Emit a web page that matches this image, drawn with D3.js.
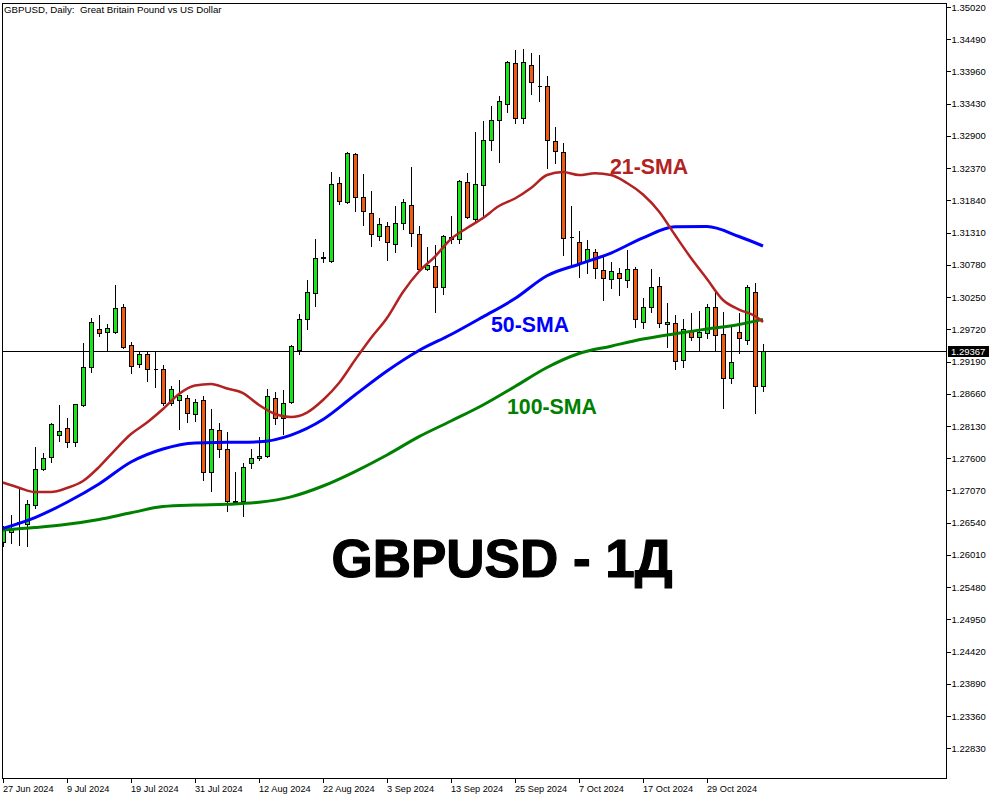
<!DOCTYPE html>
<html><head><meta charset="utf-8">
<script src="https://cdn.jsdelivr.net/npm/d3@7"></script>
<style>
html,body{margin:0;padding:0;background:#fff;}
svg{display:block;}
text{font-family:"Liberation Sans",Arial,sans-serif;}
</style></head><body>
<svg id="chart" width="1000" height="800"></svg>
<script>
const dates = ["2024-06-27","2024-06-28","2024-07-01","2024-07-02","2024-07-03","2024-07-04","2024-07-05","2024-07-08","2024-07-09","2024-07-10","2024-07-11","2024-07-12","2024-07-15","2024-07-16","2024-07-17","2024-07-18","2024-07-19","2024-07-22","2024-07-23","2024-07-24","2024-07-25","2024-07-26","2024-07-29","2024-07-30","2024-07-31","2024-08-01","2024-08-02","2024-08-05","2024-08-06","2024-08-07","2024-08-08","2024-08-09","2024-08-12","2024-08-13","2024-08-14","2024-08-15","2024-08-16","2024-08-19","2024-08-20","2024-08-21","2024-08-22","2024-08-23","2024-08-26","2024-08-27","2024-08-28","2024-08-29","2024-08-30","2024-09-02","2024-09-03","2024-09-04","2024-09-05","2024-09-06","2024-09-09","2024-09-10","2024-09-11","2024-09-12","2024-09-13","2024-09-16","2024-09-17","2024-09-18","2024-09-19","2024-09-20","2024-09-23","2024-09-24","2024-09-25","2024-09-26","2024-09-27","2024-09-30","2024-10-01","2024-10-02","2024-10-03","2024-10-04","2024-10-07","2024-10-08","2024-10-09","2024-10-10","2024-10-11","2024-10-14","2024-10-15","2024-10-16","2024-10-17","2024-10-18","2024-10-21","2024-10-22","2024-10-23","2024-10-24","2024-10-25","2024-10-28","2024-10-29","2024-10-30","2024-10-31","2024-11-01","2024-11-04","2024-11-05","2024-11-06","2024-11-07"];

const open  = [1.26217,1.26387,1.26540,1.26513,1.26831,1.27418,1.27615,1.27976,1.28091,1.27873,1.28470,1.29094,1.29720,1.29671,1.29681,1.30082,1.29456,1.29144,1.29308,1.29070,1.29061,1.28513,1.28557,1.28585,1.28322,1.28552,1.27374,1.28063,1.27747,1.26895,1.26897,1.27521,1.27598,1.27637,1.28585,1.28256,1.28529,1.29379,1.29884,1.30322,1.30900,1.30840,1.32121,1.31818,1.32597,1.31900,1.31627,1.31254,1.31424,1.31122,1.31463,1.31764,1.31282,1.30707,1.30761,1.30420,1.31200,1.31200,1.32137,1.31529,1.32093,1.32833,1.33162,1.33425,1.34104,1.33190,1.34066,1.33725,1.33721,1.32816,1.32630,1.31238,1.31151,1.30847,1.30985,1.30695,1.30542,1.30640,1.30531,1.30707,1.29844,1.30082,1.30437,1.29803,1.29819,1.29220,1.29697,1.29588,1.29652,1.30082,1.29636,1.28912,1.29671,1.29543,1.30329,1.28792];
const high  = [1.26485,1.26666,1.27110,1.26913,1.27789,1.27691,1.28174,1.28475,1.28261,1.28495,1.29499,1.29900,1.29955,1.29807,1.30449,1.30136,1.29510,1.29351,1.29351,1.29367,1.29132,1.28788,1.28886,1.28639,1.28569,1.28623,1.28409,1.28174,1.28030,1.27373,1.27526,1.27747,1.27949,1.28738,1.28694,1.28721,1.29460,1.29971,1.30531,1.31205,1.30996,1.32301,1.32219,1.32640,1.32614,1.32273,1.32001,1.31545,1.31480,1.31747,1.31862,1.32394,1.31424,1.31078,1.31106,1.31270,1.31583,1.32175,1.32295,1.32969,1.33145,1.33397,1.33561,1.34137,1.34313,1.34324,1.34258,1.34230,1.33885,1.33042,1.32778,1.31747,1.31341,1.31189,1.31035,1.30913,1.30832,1.30733,1.31024,1.30749,1.30240,1.30711,1.30575,1.30158,1.29954,1.29889,1.29982,1.30021,1.30136,1.30353,1.29999,1.29762,1.29982,1.30449,1.30486,1.29478];
const low   = [1.26156,1.26200,1.26172,1.26156,1.26776,1.27407,1.27543,1.27887,1.27779,1.27804,1.28465,1.29012,1.29614,1.29379,1.29655,1.29407,1.29005,1.29094,1.28874,1.28770,1.28475,1.28475,1.28080,1.28200,1.28212,1.27250,1.27066,1.27625,1.26727,1.26859,1.26650,1.27439,1.27571,1.27620,1.28162,1.27992,1.28503,1.29308,1.29721,1.30108,1.30832,1.30825,1.31780,1.31791,1.31665,1.31435,1.31094,1.31189,1.30859,1.30996,1.31369,1.31089,1.30695,1.30690,1.30009,1.30300,1.31145,1.31145,1.31545,1.31506,1.31571,1.32668,1.32476,1.33298,1.33117,1.33117,1.33584,1.33479,1.32367,1.32449,1.30942,1.30749,1.30585,1.30641,1.30558,1.30202,1.30394,1.30284,1.30420,1.29762,1.29736,1.30009,1.29762,1.29434,1.29066,1.29094,1.29543,1.29379,1.29570,1.29379,1.28430,1.28841,1.29334,1.29478,1.28348,1.28710];
const close = [1.26420,1.26436,1.26552,1.26842,1.27418,1.27598,1.28157,1.28052,1.27861,1.28486,1.29104,1.29835,1.29664,1.29737,1.30065,1.29423,1.29110,1.29308,1.29061,1.29062,1.28503,1.28738,1.28634,1.28348,1.28519,1.27368,1.28080,1.27747,1.26892,1.26888,1.27460,1.27598,1.27637,1.28628,1.28256,1.28513,1.29444,1.29884,1.30329,1.30888,1.30910,1.32104,1.31834,1.32614,1.31900,1.31670,1.31282,1.31447,1.31151,1.31463,1.31808,1.31299,1.30707,1.30778,1.30420,1.31254,1.31233,1.32158,1.31566,1.32109,1.32833,1.33162,1.33474,1.34120,1.33190,1.34110,1.33781,1.33717,1.32833,1.32657,1.31216,1.31246,1.30805,1.31035,1.30722,1.30568,1.30679,1.30568,1.30707,1.29884,1.30091,1.30420,1.29819,1.29836,1.29204,1.29720,1.29598,1.29680,1.30082,1.29619,1.28923,1.29187,1.29572,1.30410,1.28792,1.29367];

const sma21 = [["2024-06-27",1.27200],["2024-07-01",1.27115],["2024-07-03",1.27044],["2024-07-05",1.27044],["2024-07-09",1.27110],["2024-07-11",1.27225],["2024-07-15",1.27455],["2024-07-17",1.27735],["2024-07-19",1.27998],["2024-07-23",1.28187],["2024-07-25",1.28409],["2024-07-29",1.28656],["2024-07-31",1.28795],["2024-08-02",1.28820],["2024-08-06",1.28746],["2024-08-08",1.28672],["2024-08-12",1.28475],["2024-08-14",1.28327],["2024-08-16",1.28277],["2024-08-20",1.28351],["2024-08-22",1.28557],["2024-08-26",1.28837],["2024-08-28",1.29215],["2024-08-30",1.29577],["2024-09-03",1.29906],["2024-09-05",1.30333],["2024-09-09",1.30670],["2024-09-11",1.30917],["2024-09-13",1.31205],["2024-09-17",1.31386],["2024-09-19",1.31550],["2024-09-23",1.31747],["2024-09-25",1.31871],["2024-09-27",1.32043],["2024-10-01",1.32257],["2024-10-03",1.32307],["2024-10-07",1.32257],["2024-10-09",1.32285],["2024-10-11",1.32257],["2024-10-15",1.32126],["2024-10-17",1.31936],["2024-10-21",1.31657],["2024-10-23",1.31270],["2024-10-25",1.30892],["2024-10-29",1.30547],["2024-10-31",1.30202],["2024-11-04",1.30045],["2024-11-06",1.29938],["2024-11-07",1.29840]];
const sma50 = [["2024-06-27",1.26447],["2024-07-03",1.26625],["2024-07-09",1.26876],["2024-07-15",1.27176],["2024-07-19",1.27537],["2024-07-25",1.27751],["2024-07-31",1.27850],["2024-08-06",1.27861],["2024-08-12",1.27870],["2024-08-16",1.27981],["2024-08-22",1.28236],["2024-08-28",1.28639],["2024-09-03",1.29034],["2024-09-09",1.29371],["2024-09-13",1.29634],["2024-09-19",1.29925],["2024-09-25",1.30226],["2024-10-01",1.30601],["2024-10-07",1.30790],["2024-10-11",1.30974],["2024-10-17",1.31224],["2024-10-23",1.31405],["2024-10-29",1.31410],["2024-11-04",1.31246],["2024-11-07",1.31090]];
const sma100 = [["2024-06-27",1.26419],["2024-07-03",1.26460],["2024-07-09",1.26513],["2024-07-15",1.26592],["2024-07-19",1.26702],["2024-07-25",1.26806],["2024-07-31",1.26830],["2024-08-06",1.26842],["2024-08-12",1.26876],["2024-08-16",1.26965],["2024-08-22",1.27143],["2024-08-28",1.27381],["2024-09-03",1.27653],["2024-09-09",1.27955],["2024-09-13",1.28212],["2024-09-19",1.28475],["2024-09-25",1.28779],["2024-10-01",1.29092],["2024-10-07",1.29322],["2024-10-11",1.29442],["2024-10-17",1.29560],["2024-10-23",1.29647],["2024-10-29",1.29725],["2024-11-04",1.29800],["2024-11-07",1.29884]];

const priceTicks = [1.35020,1.34490,1.33960,1.33430,1.32900,1.32370,1.31840,1.31310,1.30780,1.30250,1.29720,1.29190,1.28660,1.28130,1.27600,1.27070,1.26540,1.26010,1.25480,1.24950,1.24420,1.23890,1.23360,1.22830];
const tickDates = ["2024-06-27","2024-07-09","2024-07-19","2024-07-31","2024-08-12","2024-08-22","2024-09-03","2024-09-13","2024-09-25","2024-10-07","2024-10-17","2024-10-29"];
const tickLabels = ["27 Jun 2024","9 Jul 2024","19 Jul 2024","31 Jul 2024","12 Aug 2024","22 Aug 2024","3 Sep 2024","13 Sep 2024","25 Sep 2024","7 Oct 2024","17 Oct 2024","29 Oct 2024"];
const currentPrice = 1.29367;
const headerText = "GBPUSD, Daily:  Great Britain Pound vs US Dollar";
const titleText = "GBPUSD - 1Д";

const svg = d3.select("#chart");
const L = 2, T = 3, R = 946, B = 778;
const x = d3.scalePoint().domain(dates).range([3, 763]);
const y = d3.scaleLinear().domain([1.22830, 1.35020]).range([748.3, 7]);

const BULL = "#19e619", BEAR = "#f25a10";

svg.append("rect").attr("width",1000).attr("height",800).attr("fill","#fff");
svg.append("defs").append("clipPath").attr("id","clip")
  .append("rect").attr("x",L).attr("y",T).attr("width",R-L).attr("height",B-T);

const plot = svg.append("g").attr("clip-path","url(#clip)");

// current price line
plot.append("line").attr("x1",L).attr("x2",R)
  .attr("y1",Math.round(y(currentPrice))+0.5).attr("y2",Math.round(y(currentPrice))+0.5)
  .attr("stroke","#000").attr("stroke-width",1);

const candles = dates.map((d,i)=>({d,o:open[i],h:high[i],l:low[i],c:close[i]}));
const cg = plot.append("g").attr("shape-rendering","crispEdges");
cg.selectAll("line.wick").data(candles).join("line").attr("class","wick")
  .attr("x1",d=>Math.round(x(d.d))+0.5).attr("x2",d=>Math.round(x(d.d))+0.5)
  .attr("y1",d=>Math.round(y(d.h))).attr("y2",d=>Math.round(y(d.l))+1)
  .attr("stroke","#000").attr("stroke-width",1);
cg.selectAll("path.body").data(candles).join("path").attr("class","body")
  .attr("d",d=>{
    const cx = Math.round(x(d.d));
    const t = Math.round(y(Math.max(d.o,d.c)))+0.5;
    const b = Math.round(y(Math.min(d.o,d.c)))+0.5;
    return `M${cx-1.5},${t}H${cx+2.5}V${b}H${cx-1.5}Z`;
  })
  .attr("fill",d=>d.c>=d.o?BULL:BEAR)
  .attr("stroke","#000").attr("stroke-width",1);

// moving averages
const line = d3.line().x(d=>x(d[0])).y(d=>y(d[1])).curve(d3.curveMonotoneX);
plot.append("path").datum(sma100).attr("d",line).attr("fill","none").attr("stroke","#008000").attr("stroke-width",3);
plot.append("path").datum(sma50).attr("d",line).attr("fill","none").attr("stroke","#0000ff").attr("stroke-width",3);
plot.append("path").datum(sma21).attr("d",line).attr("fill","none").attr("stroke","#b22222").attr("stroke-width",2.5);

// labels
svg.append("text").attr("x",610).attr("y",173.5).attr("font-size",21.3).attr("font-weight","bold").attr("fill","#b22222").text("21-SMA");
svg.append("text").attr("x",491).attr("y",331.5).attr("font-size",21.3).attr("font-weight","bold").attr("fill","#0000ff").text("50-SMA");
svg.append("text").attr("x",507).attr("y",413.5).attr("font-size",21.3).attr("font-weight","bold").attr("fill","#008000").text("100-SMA");
svg.append("text").attr("x",502).attr("y",577).attr("text-anchor","middle").attr("font-size",53).attr("font-weight","bold")
  .attr("fill","#000").attr("stroke","#000").attr("stroke-width",1.2).attr("stroke-linejoin","round").text(titleText);

svg.append("text").attr("x",4).attr("y",13).attr("font-size",9.7).attr("fill","#000")
  .style("white-space","pre").attr("xml:space","preserve").text(headerText);

// frame
svg.append("rect").attr("x",L+0.5).attr("y",T+0.5).attr("width",R-L).attr("height",B-T)
  .attr("fill","none").attr("stroke","#000").attr("stroke-width",1).attr("shape-rendering","crispEdges");

// y axis
const yAxis = d3.axisRight(y).tickValues(priceTicks).tickSize(4).tickPadding(1).tickFormat(d3.format(".5f"));
const ya = svg.append("g").attr("transform",`translate(${R+0.5},0)`).call(yAxis);
ya.select(".domain").remove();
ya.selectAll("text").attr("font-size",9.5).attr("font-family","'Liberation Sans',Arial,sans-serif").attr("fill","#000");
ya.selectAll("line").attr("stroke","#000").attr("shape-rendering","crispEdges");

// current price tag
const cp = Math.round(y(currentPrice));
svg.append("rect").attr("x",948).attr("y",cp-5).attr("width",41).attr("height",11).attr("fill","#000");
svg.append("text").attr("x",951).attr("y",cp+0.5).attr("dy","0.35em").attr("font-size",9.5).attr("fill","#fff").text(d3.format(".5f")(currentPrice));

// x axis
const xAxis = d3.axisBottom(x).tickValues(tickDates).tickSize(4).tickPadding(3)
  .tickFormat((d)=>tickLabels[tickDates.indexOf(d)]);
const xa = svg.append("g").attr("transform",`translate(-0.5,${B+0.5})`).call(xAxis);
xa.select(".domain").remove();
xa.selectAll("text").attr("text-anchor","start").attr("x",0).attr("font-size",9.2)
  .attr("font-family","'Liberation Sans',Arial,sans-serif").attr("fill","#000");
xa.selectAll("line").attr("stroke","#000").attr("shape-rendering","crispEdges");
</script>
</body></html>
